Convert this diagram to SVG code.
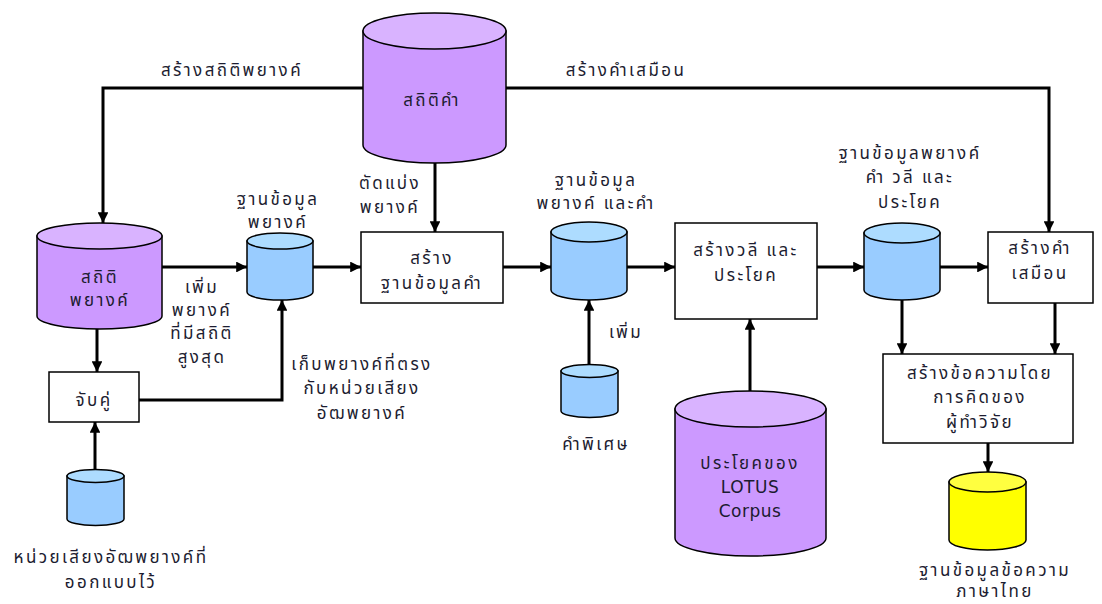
<svg xmlns="http://www.w3.org/2000/svg" width="1102" height="604" viewBox="0 0 1102 604">
  <defs>
    <marker id="arr" viewBox="0 0 10 10" refX="10" refY="5" markerWidth="3.6" markerHeight="3.6" orient="auto" markerUnits="strokeWidth">
      <path d="M0,0 L10,5 L0,10 Z" fill="#000"/>
    </marker>
  </defs>
  <style>
    text { font-family: "Noto Sans Thai", "Noto Sans", "DejaVu Sans", sans-serif; font-size: 17px; fill: #1c1c30; text-anchor: middle; letter-spacing: 2.4px; stroke: none; }
    .lat { font-family: "DejaVu Sans", "Noto Sans", sans-serif; letter-spacing: 0.5px; }
    .box { fill: #fff; stroke: #000; stroke-width: 1.5; }
    .cyl path, .cyl ellipse { stroke: #000; stroke-width: 1.5; }
    .purple .side { fill: #cc99ff; }
    .purple .top { fill: #d9b3ff; }
    .blue .side { fill: #99ccff; }
    .blue .top { fill: #addcff; }
    .yellow .side { fill: #ffff00; }
    .yellow .top { fill: #ffff40; }
    .conn path { fill: none; stroke: #000; stroke-width: 3; }
    .conn .tip { marker-end: url(#arr); }
  </style>
  <rect width="1102" height="604" fill="#fff"/>

  <!-- connectors -->
  <g id="connectors" class="conn">
    <path class="tip" d="M363,88 H103 V223"/>
    <path class="tip" d="M506,88 H1049 V232"/>
    <path class="tip" d="M435,163 V232"/>
    <path class="tip" d="M162,267 H247"/>
    <path class="tip" d="M313,267 H361"/>
    <path class="tip" d="M503,267 H551"/>
    <path class="tip" d="M627,267 H675"/>
    <path class="tip" d="M817,267 H864"/>
    <path class="tip" d="M940,267 H988"/>
    <path class="tip" d="M97,329 V372"/>
    <path class="tip" d="M139,400 H282 V300"/>
    <path class="tip" d="M95,470 V422"/>
    <path class="tip" d="M589,365 V300"/>
    <path class="tip" d="M750,391 V319"/>
    <path class="tip" d="M902,300 V354"/>
    <path class="tip" d="M1055,303 V354"/>
    <path class="tip" d="M988,443 V472"/>
  </g>

  <!-- free labels on connectors -->
  <g id="labels">
    <text x="232" y="76">สร้างสถิติพยางค์</text>
    <text x="626" y="76">สร้างคำเสมือน</text>
    <text x="390" y="189">ตัดแบ่ง</text>
    <text x="390" y="213">พยางค์</text>
    <text x="202" y="293">เพิ่ม</text>
    <text x="202" y="316">พยางค์</text>
    <text x="202" y="339">ที่มีสถิติ</text>
    <text x="202" y="363">สูงสุด</text>
    <text x="362" y="370">เก็บพยางค์ที่ตรง</text>
    <text x="362" y="394">กับหน่วยเสียง</text>
    <text x="362" y="419">อัฒพยางค์</text>
    <text x="626" y="338">เพิ่ม</text>
  </g>

  <!-- word statistics store -->
  <g id="word-stats" class="cyl purple">
    <path class="side" d="M363,31 V145 A71.5,18 0 0 0 506,145 V31 Z"/>
    <ellipse class="top" cx="434.5" cy="31" rx="71.5" ry="18"/>
    <text x="432" y="106">สถิติคำ</text>
  </g>

  <!-- syllable statistics store -->
  <g id="syllable-stats" class="cyl purple">
    <path class="side" d="M37,236 V316 A62.5,13 0 0 0 162,316 V236 Z"/>
    <ellipse class="top" cx="99.5" cy="236" rx="62.5" ry="13"/>
    <text x="100" y="283">สถิติ</text>
    <text x="100" y="306">พยางค์</text>
  </g>

  <!-- syllable database -->
  <g id="syllable-db" class="cyl blue">
    <path class="side" d="M247,241 V292 A33,8 0 0 0 313,292 V241 Z"/>
    <ellipse class="top" cx="280" cy="241" rx="33" ry="8"/>
    <text x="278" y="205">ฐานข้อมูล</text>
    <text x="278" y="228">พยางค์</text>
  </g>

  <!-- pairing step -->
  <g id="pairing">
    <rect class="box" x="49" y="372" width="90" height="50"/>
    <text x="94" y="406">จับคู่</text>
  </g>

  <!-- designed half-syllable units -->
  <g id="phoneme-units" class="cyl blue">
    <path class="side" d="M67,476 V519 A28.5,6.5 0 0 0 124,519 V476 Z"/>
    <ellipse class="top" cx="95.5" cy="476" rx="28.5" ry="6.5"/>
    <text x="111" y="563">หน่วยเสียงอัฒพยางค์ที่</text>
    <text x="111" y="588">ออกแบบไว้</text>
  </g>

  <!-- build word database -->
  <g id="build-word-db">
    <rect class="box" x="361" y="232" width="142" height="71"/>
    <text x="432" y="264">สร้าง</text>
    <text x="432" y="289">ฐานข้อมูลคำ</text>
  </g>

  <!-- syllable and word database -->
  <g id="syllable-word-db" class="cyl blue">
    <path class="side" d="M551,232 V290 A38,10 0 0 0 627,290 V232 Z"/>
    <ellipse class="top" cx="589" cy="232" rx="38" ry="10"/>
    <text x="596" y="186">ฐานข้อมูล</text>
    <text x="596" y="209">พยางค์ และคำ</text>
  </g>

  <!-- special words -->
  <g id="special-words" class="cyl blue">
    <path class="side" d="M561,371 V411 A28.5,6.5 0 0 0 618,411 V371 Z"/>
    <ellipse class="top" cx="589.5" cy="371" rx="28.5" ry="6.5"/>
    <text x="596" y="450">คำพิเศษ</text>
  </g>

  <!-- build phrases and sentences -->
  <g id="build-phrases">
    <rect class="box" x="675" y="223" width="142" height="96"/>
    <text x="746" y="256">สร้างวลี และ</text>
    <text x="746" y="281">ประโยค</text>
  </g>

  <!-- LOTUS corpus sentences -->
  <g id="lotus-corpus" class="cyl purple">
    <path class="side" d="M675,409 V538 A75.5,18 0 0 0 826,538 V409 Z"/>
    <ellipse class="top" cx="750.5" cy="409" rx="75.5" ry="18"/>
    <text x="750" y="469">ประโยคของ</text>
    <text class="lat" x="750" y="493">LOTUS</text>
    <text class="lat" x="750" y="517">Corpus</text>
  </g>

  <!-- syllable, word, phrase and sentence database -->
  <g id="phrase-db" class="cyl blue">
    <path class="side" d="M864,233 V290 A38,10 0 0 0 940,290 V233 Z"/>
    <ellipse class="top" cx="902" cy="233" rx="38" ry="10"/>
    <text x="910" y="159">ฐานข้อมูลพยางค์</text>
    <text x="910" y="183">คำ วลี และ</text>
    <text x="910" y="208">ประโยค</text>
  </g>

  <!-- build pseudo-words -->
  <g id="build-pseudo">
    <rect class="box" x="988" y="232" width="105" height="71"/>
    <text x="1040" y="254">สร้างคำ</text>
    <text x="1040" y="279">เสมือน</text>
  </g>

  <!-- researcher-composed text -->
  <g id="compose-text">
    <rect class="box" x="883" y="354" width="190" height="89"/>
    <text x="980" y="379">สร้างข้อความโดย</text>
    <text x="980" y="403">การคิดของ</text>
    <text x="980" y="428">ผู้ทำวิจัย</text>
  </g>

  <!-- Thai text database -->
  <g id="thai-text-db" class="cyl yellow">
    <path class="side" d="M949,482 V540 A38.5,10 0 0 0 1026,540 V482 Z"/>
    <ellipse class="top" cx="987.5" cy="482" rx="38.5" ry="10"/>
    <text x="995" y="576">ฐานข้อมูลข้อความ</text>
    <text x="995" y="597">ภาษาไทย</text>
  </g>
</svg>
